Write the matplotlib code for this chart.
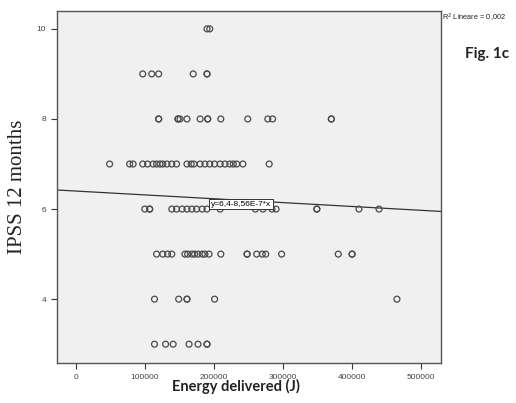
import numpy as np
import matplotlib.pyplot as plt

# IPSS score at 12 months vs energy delivered (J), one row per IPSS level
energy_10 = [190000, 194000]
energy_9 = [97000, 110000, 120000, 170000, 190000, 190000]
energy_8 = [120000, 120000, 148000, 148000, 151000, 161000, 180000, 191000, 191000,
            210000, 249000, 278000, 285000, 370000, 370000]
energy_7 = [49000, 78000, 83000, 97000, 104000, 112000, 117000, 122000, 126000, 132000,
            139000, 146000, 161000, 167000, 171000, 180000, 187000, 194000, 201000,
            209000, 216000, 223000, 228000, 233000, 242000, 280000]
energy_6 = [100000, 107000, 107000, 139000, 146000, 154000, 161000, 168000, 175000,
            183000, 190000, 209000, 260000, 271000, 284000, 290000, 349000, 349000,
            410000, 439000]
energy_5 = [117000, 126000, 133000, 139000, 158000, 162000, 168000, 172000, 177000,
            183000, 187000, 193000, 210000, 248000, 248000, 262000, 270000, 275000,
            298000, 380000, 400000, 400000]
energy_4 = [114000, 149000, 161000, 161000, 201000, 465000]
energy_3 = [114000, 130000, 141000, 164000, 177000, 190000, 190000]

rows = {10: energy_10, 9: energy_9, 8: energy_8, 7: energy_7,
        6: energy_6, 5: energy_5, 4: energy_4, 3: energy_3}

intercept = 6.4
slope = -8.56e-7
r2 = "0,002"

x = np.concatenate([np.array(v, dtype=float) for v in rows.values()])
y = np.concatenate([np.full(len(v), k) for k, v in rows.items()])

fig = plt.figure(figsize=(5.16, 4.03), dpi=100)
ax = fig.add_axes([0.110, 0.099, 0.745, 0.874])
ax.set_facecolor('#f0f0f0')

ax.scatter(x, y, s=18, facecolors='none', edgecolors='#4a4a4a', linewidths=0.9, zorder=3)

xlim = (-27500, 529000)
xl = np.array(xlim)
ax.plot(xl, intercept + slope * xl, color='#333333', lw=0.9, zorder=2)
ax.set_xlim(xlim)
ax.set_ylim(2.58, 10.4)

ax.text(196000, 6.11, 'y=6,4-8,56E-7*x', fontsize=6, family='Liberation Sans',
        va='center', ha='left', zorder=4,
        bbox=dict(boxstyle='square,pad=0.2', fc='white', ec='#333333', lw=0.7))

ax.set_xticks([0, 100000, 200000, 300000, 400000, 500000])
ax.set_xticklabels(['0', '100000', '200000', '300000', '400000', '500000'])
ax.set_yticks([4, 6, 8, 10])
ax.tick_params(labelsize=6, length=4, width=0.8, color='#333333', labelcolor='#444444')
for lab in ax.get_xticklabels() + ax.get_yticklabels():
    lab.set_family('Liberation Sans')
for side in ax.spines.values():
    side.set_color('#555555')
    side.set_linewidth(1.0)

fig.text(0.033, 0.536, 'IPSS 12 months', rotation=90, fontsize=15,
         family='Liberation Serif', ha='center', va='center', color='#222222')
fig.text(0.457, 0.040, 'Energy delivered (J)', fontsize=10.5, family='Lato',
         fontweight='bold', ha='center', va='center', color='#222222')
fig.text(0.857, 0.955, r'R$^2$ Lineare = ' + r2, fontsize=5.3, family='Liberation Sans',
         ha='left', va='center', color='#222222')
fig.text(0.901, 0.866, 'Fig. 1c', fontsize=11, family='Lato', fontweight='bold',
         ha='left', va='center', color='#222222')

fig.savefig('out.png', dpi=100)
